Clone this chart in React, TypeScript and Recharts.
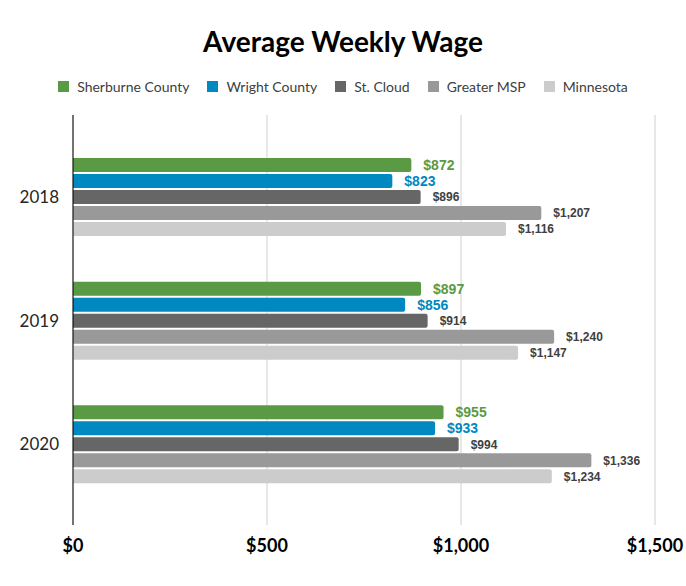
import React from 'react'
import { BarChart, Bar, XAxis, YAxis, CartesianGrid, Legend, LabelList } from 'recharts'

const years = ['2018', '2019', '2020']
const sherburne = [872, 897, 955]
const wright = [823, 856, 933]
const stCloud = [896, 914, 994]
const greaterMsp = [1207, 1240, 1336]
const minnesota = [1116, 1147, 1234]
const xTicks = [0, 500, 1000, 1500]

const series = [
  { key: 'sherburne', name: 'Sherburne County', color: '#5a9a44', labelColor: '#5a9a44', big: true },
  { key: 'wright', name: 'Wright County', color: '#0088c0', labelColor: '#0088c0', big: true },
  { key: 'stCloud', name: 'St. Cloud', color: '#666666', labelColor: '#404040', big: false },
  { key: 'greaterMsp', name: 'Greater MSP', color: '#999999', labelColor: '#404040', big: false },
  { key: 'minnesota', name: 'Minnesota', color: '#cccccc', labelColor: '#404040', big: false },
]

const data = years.map((year, i) => ({
  year,
  sherburne: sherburne[i],
  wright: wright[i],
  stCloud: stCloud[i],
  greaterMsp: greaterMsp[i],
  minnesota: minnesota[i],
}))

const money = (v: number) => '$' + v.toLocaleString('en-US')

const WageLegend = () => (
  <div style={{ display: 'flex', justifyContent: 'center', fontFamily: 'Lato, sans-serif', fontSize: 14, color: '#404040', height: 17 }}>
    {series.map((s) => (
      <div key={s.key} style={{ display: 'flex', alignItems: 'center', margin: '0 9px' }}>
        <span style={{ display: 'inline-block', width: 11, height: 11, background: s.color, marginRight: 8 }} />
        {s.name}
      </div>
    ))}
  </div>
)

export default function App() {
  return (
    <div style={{ position: 'absolute', left: 0, top: 0, width: 686, height: 586, background: '#fff' }}>
      <div style={{ position: 'absolute', top: 24, width: 686, textAlign: 'center', fontFamily: 'Lato, sans-serif', fontWeight: 700, fontSize: 28, color: '#000' }}>
        Average Weekly Wage
      </div>
      <BarChart
        width={686}
        height={586}
        data={data}
        layout="vertical"
        margin={{ top: 98, right: 31, bottom: 31, left: 0 }}
        barSize={14}
        barGap={2}
      >
        <CartesianGrid horizontal={false} stroke="#d0d0d0" />
        <XAxis
          type="number"
          domain={[0, 1500]}
          ticks={xTicks}
          tickFormatter={money}
          height={30}
          axisLine={false}
          tickLine={false}
          tick={{ fill: '#000', fontSize: 18, fontWeight: 700, fontFamily: 'Lato, sans-serif' }}
          tickMargin={8}
        />
        <YAxis
          type="category"
          dataKey="year"
          width={73}
          padding={{ top: 20, bottom: 19 }}
          axisLine={{ stroke: '#000' }}
          tickLine={false}
          tickMargin={8}
          tick={{ fill: '#262626', fontSize: 17, fontFamily: 'Lato, sans-serif' }}
        />
        <Legend verticalAlign="top" content={<WageLegend />} wrapperStyle={{ top: 78, left: 0, width: 686 }} />
        {series.map((s) => (
          <Bar key={s.key} dataKey={s.key} name={s.name} fill={s.color} radius={[0, 2, 2, 0]} isAnimationActive={false}>
            <LabelList
              dataKey={s.key}
              position="right"
              offset={12}
              formatter={(v: any) => money(Number(v))}
              style={{
                fill: s.labelColor,
                fontSize: s.big ? 14 : 12,
                fontWeight: 700,
                fontFamily: 'Liberation Sans, Arial, sans-serif',
              }}
            />
          </Bar>
        ))}
      </BarChart>
    </div>
  )
}
